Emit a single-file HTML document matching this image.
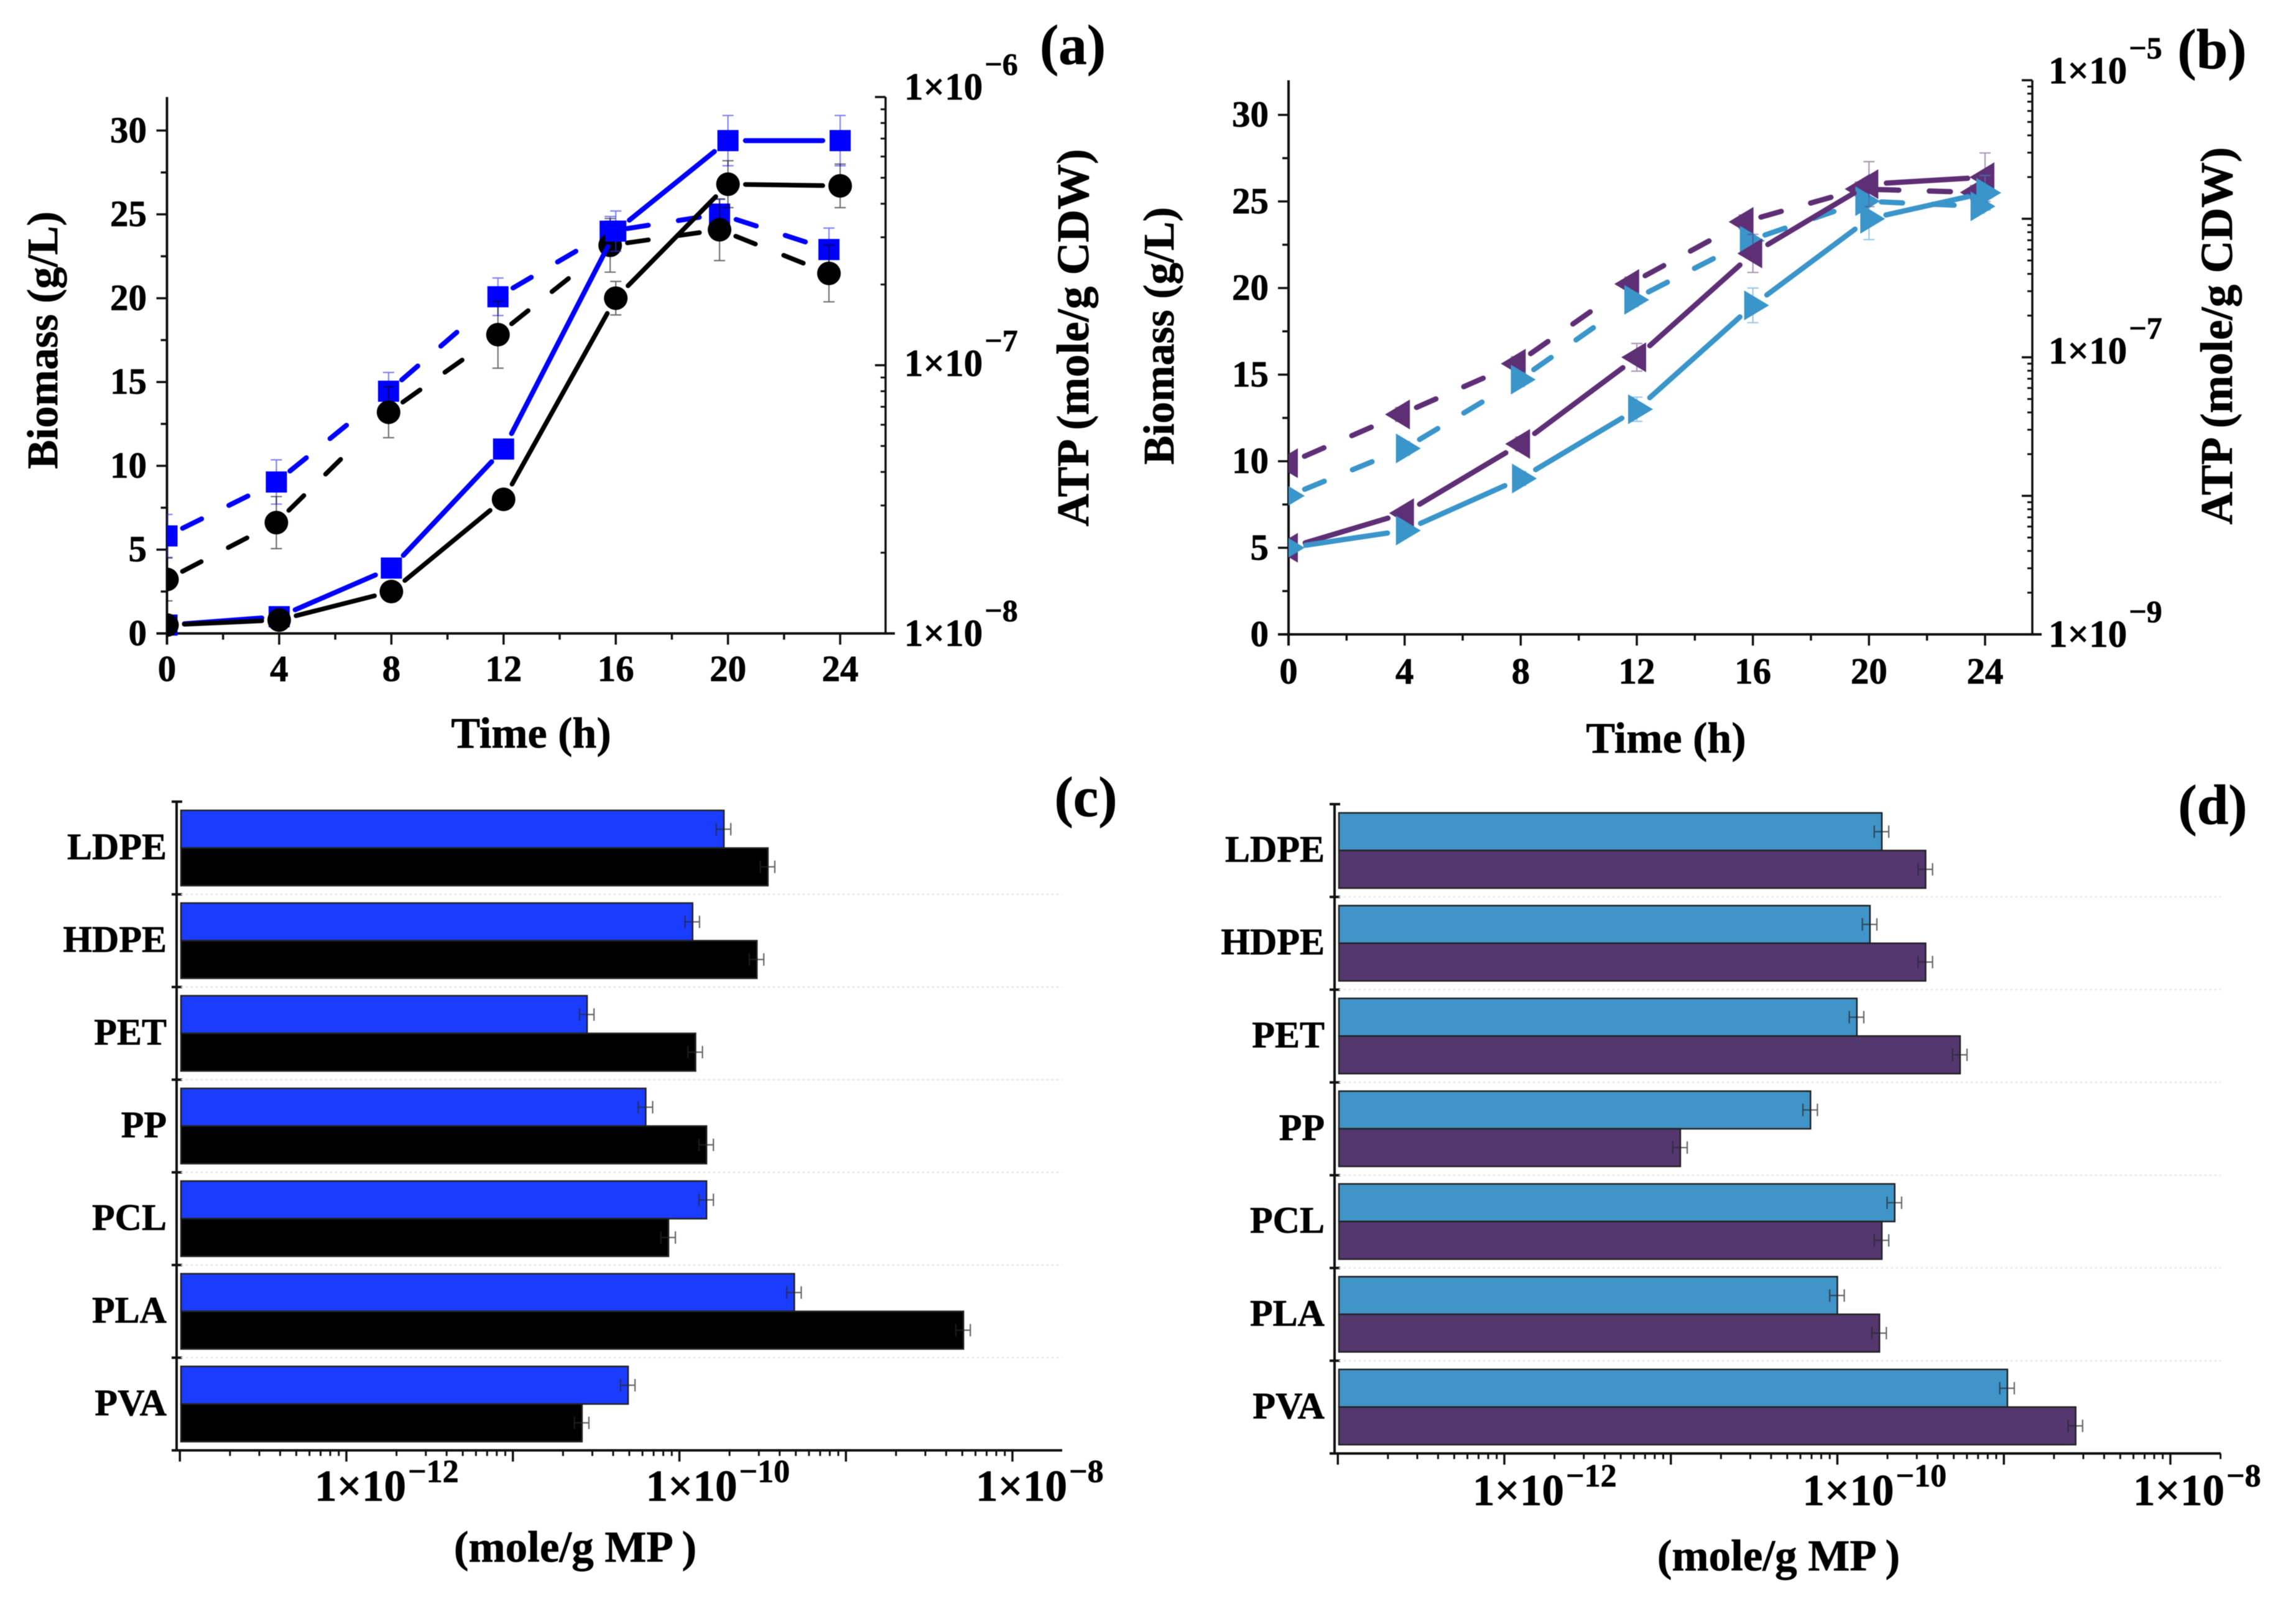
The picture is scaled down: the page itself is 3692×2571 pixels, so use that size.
<!DOCTYPE html>
<html>
<head>
<meta charset="utf-8">
<title>Biomass and ATP charts</title>
<style>
html,body{margin:0;padding:0;background:#fff;}
svg{display:block;filter:blur(0.6px);}
text{font-family:"Liberation Serif",serif;font-weight:bold;fill:#000;stroke:#000;stroke-width:0.7px;}
</style>
</head>
<body>
<svg id="figure" xmlns="http://www.w3.org/2000/svg" width="3692" height="2571" viewBox="0 0 3692 2571">
<rect x="0" y="0" width="3692" height="2571" fill="#fff"/>
<defs>
<clipPath id="clip-a"><rect x="268.5" y="0" width="1300" height="1100"/></clipPath>
<clipPath id="clip-b"><rect x="2072" y="0" width="1300" height="1100"/></clipPath>
</defs>
<g id="panel-a"></g>
<g id="panel-b"></g>
<g id="panel-c"></g>
<g id="panel-d"></g>
<text x="1725" y="103" font-size="91" text-anchor="middle">(a)</text>
<text x="3557" y="110" font-size="91" text-anchor="middle">(b)</text>
<text x="1746" y="1312" font-size="91" text-anchor="middle">(c)</text>
<text x="3558" y="1325" font-size="91" text-anchor="middle">(d)</text>
<text x="854" y="1202" font-size="70" text-anchor="middle">Time (h)</text>
<text x="2679" y="1210" font-size="70" text-anchor="middle">Time (h)</text>
<text transform="translate(92,547) rotate(-90)" font-size="70" text-anchor="middle">Biomass (g/L)</text>
<text transform="translate(1750,543) rotate(-90)" font-size="73" text-anchor="middle">ATP (mole/g CDW)</text>
<text transform="translate(1887,540) rotate(-90)" font-size="70" text-anchor="middle">Biomass (g/L)</text>
<text transform="translate(3589,540) rotate(-90)" font-size="73" text-anchor="middle">ATP (mole/g CDW)</text>
<text x="925" y="2511" font-size="71" text-anchor="middle">(mole/g MP )</text>
<text x="2860" y="2525" font-size="71" text-anchor="middle">(mole/g MP )</text>
</svg>
<script>
// ---------- Panel (a) data ----------
const timeSolidA = [0, 4, 8, 12, 16, 20, 24];
const timeDashedA = [0, 3.9, 7.9, 11.8, 15.8, 19.7, 23.6];
const biomassBlueA = [0.5, 1, 3.9, 11, 24, 29.4, 29.4];
const biomassBlueErrA = [0.2, 0.2, 0.3, 0.5, 1.2, 1.5, 1.5];
const biomassBlackA = [0.5, 0.8, 2.5, 8, 20, 26.8, 26.7];
const biomassBlackErrA = [0.1, 0.1, 0.2, 0.4, 1, 1.4, 1.3];
const atpBlueA = [2.31e-8, 3.67e-8, 8.0e-8, 1.80e-7, 3.16e-7, 3.66e-7, 2.70e-7];
const atpBlueDecadeErrA = [0.08, 0.0825, 0.07, 0.07, 0.055, 0.055, 0.08];
const atpBlackA = [1.59e-8, 2.59e-8, 6.68e-8, 1.30e-7, 2.8e-7, 3.2e-7, 2.2e-7];
const atpBlackDecadeErrA = [0.08, 0.097, 0.095, 0.125, 0.1, 0.115, 0.106];

// ---------- Panel (b) data ----------
const timeSolidB = [0, 4, 8, 12, 16, 20, 24];
const timeDashedPurpleB = [0, 3.86, 7.85, 11.76, 15.7, 19.7, 23.67];
const timeDashedBlueB = [0, 4, 7.96, 11.87, 15.85, 19.83, 23.8];
const biomassPurpleB = [5, 7, 11, 16, 22, 26, 26.4];
const biomassPurpleErrB = [0.2, 0.3, 0.4, 0.8, 1.1, 1.3, 1.4];
const biomassBlueB = [5, 6, 9, 13, 19, 24, 25.5];
const biomassBlueErrB = [0.2, 0.3, 0.4, 0.7, 1, 1.2, 1];
const atpPurpleB = [1.72e-8, 3.87e-8, 9.0e-8, 3.38e-7, 9.5e-7, 1.64e-6, 1.55e-6];
const atpPurpleDecadeErrB = [0.03, 0.05, 0.05, 0.05, 0.05, 0.05, 0.05];
const atpBlueB = [1.0e-8, 2.2e-8, 6.9e-8, 2.6e-7, 6.95e-7, 1.34e-6, 1.23e-6];
const atpBlueDecadeErrB = [0.03, 0.05, 0.05, 0.05, 0.05, 0.05, 0.05];

// ---------- Panel (c), (d) data ----------
const polymers = ['LDPE', 'HDPE', 'PET', 'PP', 'PCL', 'PLA', 'PVA'];
const barBlueC = [1.85e-10, 1.2e-10, 2.79e-11, 6.28e-11, 1.455e-10, 4.9e-10, 4.92e-11];
const barBlackC = [3.4e-10, 2.92e-10, 1.25e-10, 1.455e-10, 8.6e-11, 5.08e-9, 2.6e-11];
const barBlueD = [1.85e-10, 1.57e-10, 1.31e-10, 6.9e-11, 2.21e-10, 1.0e-10, 1.05e-9];
const barPurpleD = [3.39e-10, 3.39e-10, 5.46e-10, 1.14e-11, 1.85e-10, 1.79e-10, 2.7e-9];
const barErrFraction = 0.1;

// ---------- Tick labels ----------
const timeTicks = [0, 4, 8, 12, 16, 20, 24];
const biomassTicks = [0, 5, 10, 15, 20, 25, 30];
const atpLabelExponentsA = [-6, -7, -8];
const atpLabelExponentsB = [-5, -7, -9];
const moleLabelExponents = [-12, -10, -8];

// ---------- Drawing helpers ----------
const NS = 'http://www.w3.org/2000/svg';
function add(parent, tag, attrs) {
  const e = document.createElementNS(NS, tag);
  for (const k in attrs) e.setAttribute(k, attrs[k]);
  parent.appendChild(e);
  return e;
}
function tickLine(parent, x1, y1, x2, y2, w, name) {
  const el = add(parent, 'line', {x1: x1, y1: y1, x2: x2, y2: y2, stroke: '#111', 'stroke-width': w});
  
  
  return el;
}
function plainText(parent, x, y, size, anchor, str, name) {
  const el = add(parent, 'text', {x: x, y: y, 'font-size': size, 'text-anchor': anchor});
  el.textContent = str;
  
  
  return el;
}
function powerLabel(parent, x, y, size, expSize, rise, exponent, name) {
  const el = add(parent, 'text', {x: x, y: y, 'font-size': size});
  el.appendChild(document.createTextNode('1\u00d710'));
  const sup = add(el, 'tspan', {dx: 3, dy: -rise, 'font-size': expSize});
  sup.textContent = '\u2212' + Math.abs(exponent);
  
  
  return el;
}

function drawLineAxes(g, L, rightExponents, rightDecadeMin, rightDecadeMax, prefix) {
  const xS = t => L.x0 + (L.x24 - L.x0) * t / 24;
  const yS = v => L.yBottom - (L.yBottom - L.yTop) * v / 32;
  const yLog = v => L.yBottom - (L.yBottom - L.yTop) * (Math.log10(v) - rightDecadeMin) / (rightDecadeMax - rightDecadeMin);
  tickLine(g, L.x0, L.yTop, L.x0, L.yBottom + 18, 4, prefix + '-left-y-axis');
  tickLine(g, L.x0 - 17, L.yBottom, L.xEnd, L.yBottom, 4, prefix + '-x-axis');
  tickLine(g, L.rightX, L.yTop, L.rightX, L.yBottom, 3.5, prefix + '-right-y-axis');
  for (let t = 0; t <= 24; t += 2) {
    const major = t % 4 === 0;
    tickLine(g, xS(t), L.yBottom, xS(t), L.yBottom + (major ? 18 : 10), 3.5, prefix + '-x-tick');
  }
  for (let v = 2.5; v < 32; v += 2.5) {
    const major = Math.round(v / 2.5) % 2 === 0;
    tickLine(g, L.x0 - (major ? 17 : 10), yS(v), L.x0, yS(v), 3.5, prefix + '-left-y-tick');
  }
  for (let d = rightDecadeMin; d <= rightDecadeMax; d++) {
    tickLine(g, L.rightX - 17, yLog(Math.pow(10, d)), L.rightX, yLog(Math.pow(10, d)), 3.5, prefix + '-right-y-major-tick');
    if (d < rightDecadeMax) {
      for (let m = 2; m < 10; m++) {
        tickLine(g, L.rightX - 8, yLog(m * Math.pow(10, d)), L.rightX, yLog(m * Math.pow(10, d)), 3, prefix + '-right-y-minor-tick');
      }
    }
  }
  timeTicks.forEach(t => {
    plainText(g, xS(t), L.xLabelY, 59, 'middle', String(t), prefix + '-x-tick-label');
  });
  biomassTicks.forEach(v => {
    plainText(g, L.yLabelRight, yS(v) + 19, 59, 'end', String(v), prefix + '-left-y-tick-label');
  });
  rightExponents.forEach((e, i) => {
    powerLabel(g, L.rightLabelX, yLog(Math.pow(10, e)) + L.rightLabelShift[i], 61, 50, 40, e, prefix + '-right-y-tick-label');
  });
  return {xS: xS, yS: yS, yLog: yLog};
}

function shape(g, kind, x, y, color, name) {
  let el;
  if (kind === 'square') {
    el = add(g, 'rect', {x: x - 17, y: y - 17, width: 34, height: 34, fill: color});
  } else if (kind === 'circle') {
    el = add(g, 'circle', {cx: x, cy: y, r: 19, fill: color});
  } else if (kind === 'left') {
    el = add(g, 'polygon', {points: (x - 25) + ',' + y + ' ' + (x + 15) + ',' + (y - 24) + ' ' + (x + 15) + ',' + (y + 24), fill: color});
  } else {
    el = add(g, 'polygon', {points: (x + 26) + ',' + y + ' ' + (x - 14) + ',' + (y - 24) + ' ' + (x - 14) + ',' + (y + 24), fill: color});
  }
  
  
}

function errBar(g, x, yLow, yHigh, color, name) {
  const el = add(g, 'path', {
    d: 'M' + x + ' ' + yLow + 'V' + yHigh + 'M' + (x - 9) + ' ' + yLow + 'h18M' + (x - 9) + ' ' + yHigh + 'h18',
    fill: 'none', stroke: color, 'stroke-width': 2.2
  });
  
  
}

function drawSeries(g, pts, lows, highs, opt, name) {
  pts.forEach((p, i) => {
    errBar(g, p[0], lows[i], highs[i], opt.errColor, name + '-error-bar');
  });
  for (let i = 0; i + 1 < pts.length; i++) {
    const a = pts[i], b = pts[i + 1];
    const len = Math.hypot(b[0] - a[0], b[1] - a[1]);
    if (len <= 56) continue;
    const ux = (b[0] - a[0]) / len, uy = (b[1] - a[1]) / len;
    const attrs = {
      x1: a[0] + ux * 28, y1: a[1] + uy * 28, x2: b[0] - ux * 28, y2: b[1] - uy * 28,
      stroke: opt.color, 'stroke-width': opt.width, 'stroke-linecap': 'round'
    };
    if (opt.dashed) {
      const usable = len - 56;
      const fullDashes = Math.floor((usable + 49) / 83);
      if (fullDashes < 1) continue;
      const pattern = [];
      for (let n = 0; n < fullDashes; n++) pattern.push(34, n === fullDashes - 1 ? usable + 100 : 49);
      attrs['stroke-dasharray'] = pattern.join(' ');
    }
    const seg = add(g, 'line', attrs);
    
    
  }
  pts.forEach(p => {
    shape(g, opt.marker, p[0], p[1], opt.color, name + '-marker');
  });
}

function linearSeries(g, ax, times, values, errs, opt, name) {
  const pts = times.map((t, i) => [ax.xS(t), ax.yS(values[i])]);
  const lows = values.map((v, i) => ax.yS(v - errs[i]));
  const highs = values.map((v, i) => ax.yS(v + errs[i]));
  drawSeries(g, pts, lows, highs, opt, name);
}
function logSeries(g, ax, times, values, decadeErrs, opt, name) {
  const pts = times.map((t, i) => [ax.xS(t), ax.yLog(values[i])]);
  const lows = values.map((v, i) => ax.yLog(v * Math.pow(10, -decadeErrs[i])));
  const highs = values.map((v, i) => ax.yLog(v * Math.pow(10, decadeErrs[i])));
  drawSeries(g, pts, lows, highs, opt, name);
}

function drawBarPanel(g, L, catNames, firstValues, secondValues, firstColor, secondColor, firstName, secondName, prefix) {
  const xS = v => L.x12 + (Math.log10(v) + 12) * L.decade;
  const groupH = (L.yBottom - L.yTop) / catNames.length;
  tickLine(g, L.axisX, L.yTop, L.axisX, L.yBottom, 4, prefix + '-y-axis');
  tickLine(g, L.barX, L.yBottom, L.xEnd, L.yBottom, 4, prefix + '-x-axis');
  for (let i = 0; i <= catNames.length; i++) {
    const y = L.yTop + groupH * i;
    tickLine(g, L.axisX - 8, y, L.axisX + 9, y, 4, prefix + '-y-tick');
    if (i > 0 && i < catNames.length) {
      const grid = add(g, 'line', {x1: L.barX, y1: y, x2: L.xEnd, y2: y, stroke: '#dedede', 'stroke-width': 2, 'stroke-dasharray': '3 5'});
      
      
    }
  }
  for (let d = -13; d <= -8; d++) {
    const x0 = xS(Math.pow(10, d));
    tickLine(g, x0, L.yBottom, x0, L.yBottom + 18, 3.5, prefix + '-x-major-tick');
    for (let m = 2; m < 10; m++) {
      const v = m * Math.pow(10, d);
      if (xS(v) <= L.xEnd) tickLine(g, xS(v), L.yBottom, xS(v), L.yBottom + 9, 3, prefix + '-x-minor-tick');
    }
  }
  moleLabelExponents.forEach((e, i) => {
    powerLabel(g, xS(Math.pow(10, e)) + L.labelShift[i], L.xLabelY, 71, 52, 30, e, prefix + '-x-tick-label');
  });
  const barH = 60.5;
  catNames.forEach((c, i) => {
    const top = L.yTop + groupH * i + 14;
    [[firstValues, firstColor, firstName, top], [secondValues, secondColor, secondName, top + barH]].forEach(row => {
      const v = row[0][i];
      const rect = add(g, 'rect', {x: L.barX, y: row[3], width: xS(v) - L.barX, height: barH, fill: row[1], stroke: '#222', 'stroke-width': 2.5});
      
      
      const yc = row[3] + barH / 2;
      const xa = xS(v * (1 - barErrFraction)), xb = xS(v * (1 + barErrFraction));
      const err = add(g, 'path', {
        d: 'M' + xa + ' ' + yc + 'H' + xb + 'M' + xa + ' ' + (yc - 10) + 'v20M' + xb + ' ' + (yc - 10) + 'v20',
        fill: 'none', stroke: 'rgba(40,40,40,0.7)', 'stroke-width': 2.2
      });
      
      
    });
    plainText(g, L.catLabelRight, L.yTop + groupH * i + groupH / 2 + 18, 60, 'end', c, prefix + '-category-label');
  });
}

// ---------- Panel (a) ----------
const gA = document.getElementById('panel-a');
const layoutA = {x0: 268.5, x24: 1351, xEnd: 1439, yBottom: 1018.5, yTop: 156, rightX: 1424, xLabelY: 1095, yLabelRight: 236, rightLabelX: 1454, rightLabelShift: [4, 17, 20]};
const axA = drawLineAxes(gA, layoutA, atpLabelExponentsA, -8, -6, 'panel-a');
const plotA = add(gA, 'g', {'clip-path': 'url(#clip-a)'});


logSeries(plotA, axA, timeDashedA, atpBlueA, atpBlueDecadeErrA, {color: '#0000ff', errColor: 'rgba(50,50,255,0.6)', width: 8, dashed: true, marker: 'square'}, 'atp-blue');
logSeries(plotA, axA, timeDashedA, atpBlackA, atpBlackDecadeErrA, {color: '#000', errColor: 'rgba(0,0,0,0.55)', width: 7.5, dashed: true, marker: 'circle'}, 'atp-black');
linearSeries(plotA, axA, timeSolidA, biomassBlueA, biomassBlueErrA, {color: '#0000ff', errColor: 'rgba(50,50,255,0.6)', width: 8, dashed: false, marker: 'square'}, 'biomass-blue');
linearSeries(plotA, axA, timeSolidA, biomassBlackA, biomassBlackErrA, {color: '#000', errColor: 'rgba(0,0,0,0.55)', width: 7.5, dashed: false, marker: 'circle'}, 'biomass-black');

// ---------- Panel (b) ----------
const gB = document.getElementById('panel-b');
const layoutB = {x0: 2072, x24: 3192, xEnd: 3283, yBottom: 1020, yTop: 129, rightX: 3268, xLabelY: 1099, yLabelRight: 2040, rightLabelX: 3294, rightLabelShift: [5, 10, 20]};
const axB = drawLineAxes(gB, layoutB, atpLabelExponentsB, -9, -5, 'panel-b');
const plotB = add(gB, 'g', {'clip-path': 'url(#clip-b)'});


logSeries(plotB, axB, timeDashedPurpleB, atpPurpleB, atpPurpleDecadeErrB, {color: '#5f2f76', errColor: 'rgba(95,47,118,0.5)', width: 8.5, dashed: true, marker: 'left'}, 'atp-purple');
logSeries(plotB, axB, timeDashedBlueB, atpBlueB, atpBlueDecadeErrB, {color: '#3a95ca', errColor: 'rgba(58,149,202,0.5)', width: 8.5, dashed: true, marker: 'right'}, 'atp-light-blue');
linearSeries(plotB, axB, timeSolidB, biomassPurpleB, biomassPurpleErrB, {color: '#5f2f76', errColor: 'rgba(95,47,118,0.5)', width: 8.5, dashed: false, marker: 'left'}, 'biomass-purple');
linearSeries(plotB, axB, timeSolidB, biomassBlueB, biomassBlueErrB, {color: '#3a95ca', errColor: 'rgba(58,149,202,0.5)', width: 8.5, dashed: false, marker: 'right'}, 'biomass-light-blue');

// ---------- Panel (c) ----------
const layoutC = {axisX: 284, barX: 291, x12: 557, decade: 267.75, xEnd: 1708, yTop: 1289, yBottom: 2332, xLabelY: 2413, labelShift: [-51, -54, -59], catLabelRight: 268};
drawBarPanel(document.getElementById('panel-c'), layoutC, polymers, barBlueC, barBlackC, '#1a3cff', '#000', 'blue', 'black', 'panel-c');

// ---------- Panel (d) ----------
const layoutD = {axisX: 2146, barX: 2153, x12: 2419, decade: 267.75, xEnd: 3571, yTop: 1293, yBottom: 2337, xLabelY: 2420, labelShift: [-51, -56, -60], catLabelRight: 2130};
drawBarPanel(document.getElementById('panel-d'), layoutD, polymers, barBlueD, barPurpleD, '#4094c8', '#54376f', 'light-blue', 'purple', 'panel-d');
</script>
</body>
</html>
